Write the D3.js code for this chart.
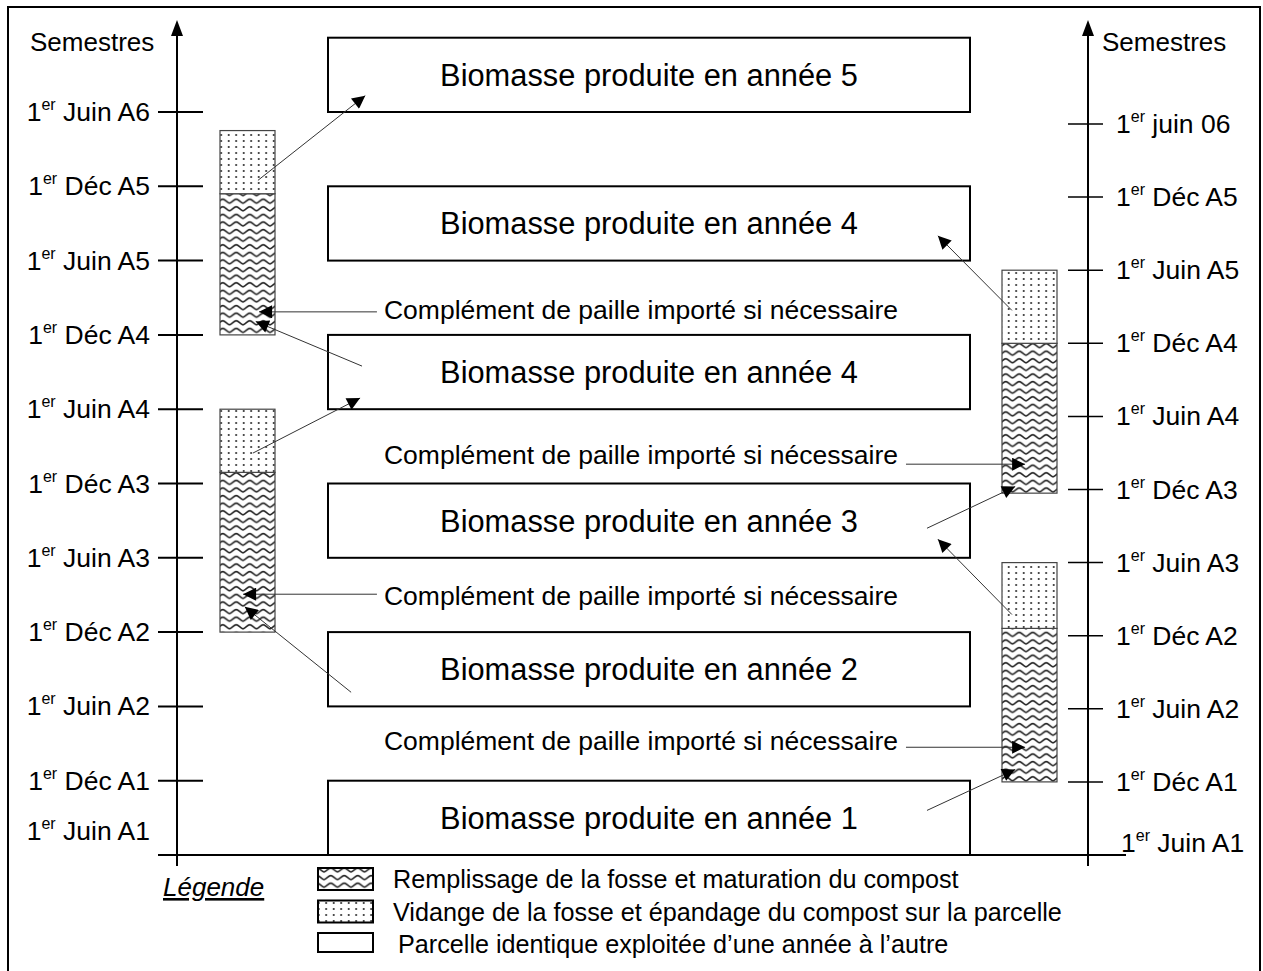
<!DOCTYPE html>
<html><head><meta charset="utf-8">
<title>Fosse compost - semestres</title>
<script src="https://cdnjs.cloudflare.com/ajax/libs/d3/7.8.5/d3.min.js"></script>
<style>
  body { margin: 0; background: white; font-family: Arial, "Liberation Sans", Helvetica, sans-serif; }
  text { fill: black; }
</style>
</head><body>
<div id="chart"></div>
<script>
// semesters are counted from the 1er juin A1 (= 0), one step per half year
var leftTicks  = ["Juin A1","Déc A1","Juin A2","Déc A2","Juin A3","Déc A3","Juin A4","Déc A4","Juin A5","Déc A5","Juin A6"];
var rightTicks = ["Juin A1","Déc A1","Juin A2","Déc A2","Juin A3","Déc A3","Juin A4","Déc A4","Juin A5","Déc A5","juin 06"];

// one parcel box per year (from june to december)
var boxLabels = ["Biomasse produite en année 1","Biomasse produite en année 2","Biomasse produite en année 3",
                 "Biomasse produite en année 4","Biomasse produite en année 4","Biomasse produite en année 5"];
var boxStart  = [0, 2, 4, 6, 8, 10];

// compost pits: filling (waves) from "fill" to "split", emptying (dots) from "split" to "end"
var leftPits  = [{fill: 3, split: 5.15, end: 6}, {fill: 7, split: 8.9, end: 9.75}];
var rightPits = [{fill: 1, split: 3.1, end: 4}, {fill: 4.95, split: 7, end: 8}];

// "Complément de paille" notes: text semester, arrow semester, side of the pit it points to, point in the pit
var complementText = "Complément de paille importé si nécessaire";
var complements = [
  {s: 7.34, arrowS: 7.31, side: "left",  fx: 0.71},
  {s: 5.38, arrowS: 5.26, side: "right", fx: 0.42},
  {s: 3.48, arrowS: 3.51, side: "left",  fx: 0.42},
  {s: 1.53, arrowS: 1.45, side: "right", fx: 0.42}
];

// arrows between pits and boxes: [element, fraction of its width, semester]
var arrows = [
  {scale: "left",  from: ["pitL", 0.69, 9.08], to: ["box", 0.058, 10.22]},
  {scale: "left",  from: ["box", 0.053, 6.58], to: ["pitL", 0.65, 7.18]},
  {scale: "left",  from: ["pitL", 0.60, 5.41], to: ["box", 0.050, 6.15]},
  {scale: "left",  from: ["box", 0.036, 2.19], to: ["pitL", 0.45, 3.34]},
  {scale: "right", from: ["pitR", 0.18, 7.45], to: ["box", 0.950, 8.47]},
  {scale: "right", from: ["box", 0.933, 4.47], to: ["pitR", 0.24, 5.04]},
  {scale: "right", from: ["pitR", 0.18, 3.29], to: ["box", 0.950, 4.32]},
  {scale: "right", from: ["box", 0.933, 0.61], to: ["pitR", 0.24, 1.17]}
];

var legendItems = [
  {fill: "wave", label: "Remplissage de la fosse et maturation du compost"},
  {fill: "dots", label: "Vidange de la fosse et épandage du compost sur la parcelle"},
  {fill: "none", label: "Parcelle identique exploitée d’une année à l’autre"}
];

var width = 1263, height = 971;
var svg = d3.select("#chart").append("svg")
  .attr("width", width)
  .attr("height", height);

// scales
var yLeft  = d3.scaleLinear().domain([0, 10]).range([855, 112]);
var yRight = d3.scaleLinear().domain([0, 10]).range([855, 124]);
var xCols = {
  pitL: d3.scaleLinear().domain([0, 1]).range([220, 275]),
  box:  d3.scaleLinear().domain([0, 1]).range([328, 970]),
  pitR: d3.scaleLinear().domain([0, 1]).range([1002, 1057])
};
var leftAxisX = 177, rightAxisX = 1088;

// patterns
var defs = svg.append("defs");
var wave = defs.append("pattern").attr("id", "wave")
  .attr("patternUnits", "userSpaceOnUse").attr("width", 13.5).attr("height", 7.6);
wave.append("rect").attr("width", 13.5).attr("height", 7.6).attr("fill", "white");
wave.append("path").attr("d", "M0,5.5 C2.2,5.5 4.5,1.5 6.75,1.5 C9,1.5 11.3,5.5 13.5,5.5")
  .attr("fill", "none").attr("stroke", "#222").attr("stroke-width", 1.6);

var dots = defs.append("pattern").attr("id", "dots")
  .attr("patternUnits", "userSpaceOnUse").attr("width", 7.5).attr("height", 6);
dots.append("rect").attr("width", 7.5).attr("height", 6).attr("fill", "white");
dots.append("circle").attr("cx", 3.7).attr("cy", 3).attr("r", 1).attr("fill", "#222");

defs.append("marker").attr("id", "head")
  .attr("viewBox", "0 0 10 10").attr("refX", 10).attr("refY", 5)
  .attr("markerUnits", "userSpaceOnUse")
  .attr("markerWidth", 16).attr("markerHeight", 13)
  .attr("orient", "auto")
  .append("path").attr("d", "M0,0 L10,5 L0,10 Z").attr("fill", "black");

// frame
svg.append("rect").attr("x", 8).attr("y", 7).attr("width", 1252).attr("height", 1000)
  .attr("fill", "none").attr("stroke", "black").attr("stroke-width", 2);

// baseline and vertical axes
svg.append("line").attr("x1", 158).attr("x2", 1126).attr("y1", yLeft(0)).attr("y2", yLeft(0))
  .attr("stroke", "black").attr("stroke-width", 2);

[leftAxisX, rightAxisX].forEach(function(ax) {
  svg.append("line").attr("x1", ax).attr("x2", ax).attr("y1", 866).attr("y2", 30)
    .attr("stroke", "black").attr("stroke-width", 2);
  svg.append("path").attr("d", "M" + ax + ",20 L" + (ax - 6) + ",36 L" + (ax + 6) + ",36 Z")
    .attr("fill", "black");
});

svg.append("text").attr("x", 30).attr("y", 51).attr("font-size", 26).text("Semestres");
svg.append("text").attr("x", 1102).attr("y", 51).attr("font-size", 26).text("Semestres");

function semLabel(g, name) {
  g.append("tspan").text("1");
  g.append("tspan").attr("font-size", 16).attr("dy", -11).text("er");
  g.append("tspan").attr("dy", 11).text(" " + name);
}

// left ticks
leftTicks.forEach(function(name, i) {
  if (i > 0) {
    svg.append("line").attr("x1", 158).attr("x2", 203)
      .attr("y1", yLeft(i)).attr("y2", yLeft(i))
      .attr("stroke", "black").attr("stroke-width", 2);
  }
  var t = svg.append("text").attr("x", 150).attr("y", (i > 0 ? yLeft(i) : yLeft(0) - 24) + 9)
    .attr("text-anchor", "end").attr("font-size", 26.5);
  semLabel(t, name);
});

// right ticks
rightTicks.forEach(function(name, i) {
  if (i > 0) {
    svg.append("line").attr("x1", 1068).attr("x2", 1103)
      .attr("y1", yRight(i)).attr("y2", yRight(i))
      .attr("stroke", "black").attr("stroke-width", 1.5);
  }
  var t = svg.append("text").attr("x", i > 0 ? 1116 : 1121).attr("y", (i > 0 ? yRight(i) : yRight(0) - 12) + 9)
    .attr("font-size", 26.5);
  semLabel(t, name);
});

// parcel boxes
boxStart.forEach(function(s, i) {
  svg.append("rect")
    .attr("x", xCols.box(0)).attr("width", xCols.box(1) - xCols.box(0))
    .attr("y", yLeft(s + 1)).attr("height", yLeft(s) - yLeft(s + 1))
    .attr("fill", "white").attr("stroke", "black").attr("stroke-width", 2);
  svg.append("text").attr("x", xCols.box(0.5)).attr("y", yLeft(s + 0.5) + 11)
    .attr("text-anchor", "middle").attr("font-size", 30.8).text(boxLabels[i]);
});

// pits
function drawPits(list, xs, ys) {
  list.forEach(function(p) {
    svg.append("rect").attr("x", xs(0)).attr("width", xs(1) - xs(0))
      .attr("y", ys(p.split)).attr("height", ys(p.fill) - ys(p.split))
      .attr("fill", "url(#wave)").attr("stroke", "#444").attr("stroke-width", 1.2);
    svg.append("rect").attr("x", xs(0)).attr("width", xs(1) - xs(0))
      .attr("y", ys(p.end)).attr("height", ys(p.split) - ys(p.end))
      .attr("fill", "url(#dots)").attr("stroke", "#444").attr("stroke-width", 1.2);
  });
}
drawPits(leftPits, xCols.pitL, yLeft);
drawPits(rightPits, xCols.pitR, yRight);

// arrows
arrows.forEach(function(a) {
  var ys = a.scale == "left" ? yLeft : yRight;
  svg.append("line")
    .attr("x1", xCols[a.from[0]](a.from[1])).attr("y1", ys(a.from[2]))
    .attr("x2", xCols[a.to[0]](a.to[1])).attr("y2", ys(a.to[2]))
    .attr("stroke", "#333").attr("stroke-width", 1)
    .attr("marker-end", "url(#head)");
});

// complement notes
complements.forEach(function(c) {
  var cx = xCols.box(0.4875);
  var t = svg.append("text").attr("x", cx).attr("y", yLeft(c.s) + 9)
    .attr("text-anchor", "middle").attr("font-size", 26.5).text(complementText);
  var len = t.node().getComputedTextLength();
  var x0 = cx - len / 2, x1 = cx + len / 2;
  var from = c.side == "left" ? x0 - 7 : x1 + 8;
  var to = c.side == "left" ? xCols.pitL(c.fx) : xCols.pitR(c.fx);
  svg.append("line").attr("x1", from).attr("x2", to)
    .attr("y1", yLeft(c.arrowS)).attr("y2", yLeft(c.arrowS))
    .attr("stroke", "#333").attr("stroke-width", 1)
    .attr("marker-end", "url(#head)");
});

// legend
var leg = svg.append("g");
leg.append("text").attr("x", 163).attr("y", 896).attr("font-size", 26)
  .attr("font-style", "italic").attr("text-decoration", "underline").text("Légende");
legendItems.forEach(function(d, i) {
  var y = 868 + i * 32.5;
  leg.append("rect").attr("x", 318).attr("y", y).attr("width", 55).attr("height", i == 2 ? 19 : 22)
    .attr("fill", d.fill == "none" ? "white" : "url(#" + d.fill + ")")
    .attr("stroke", "black").attr("stroke-width", 2);
  leg.append("text").attr("x", i == 2 ? 398 : 393).attr("y", y + 20).attr("font-size", 25.2).text(d.label);
});
</script>
</body></html>
